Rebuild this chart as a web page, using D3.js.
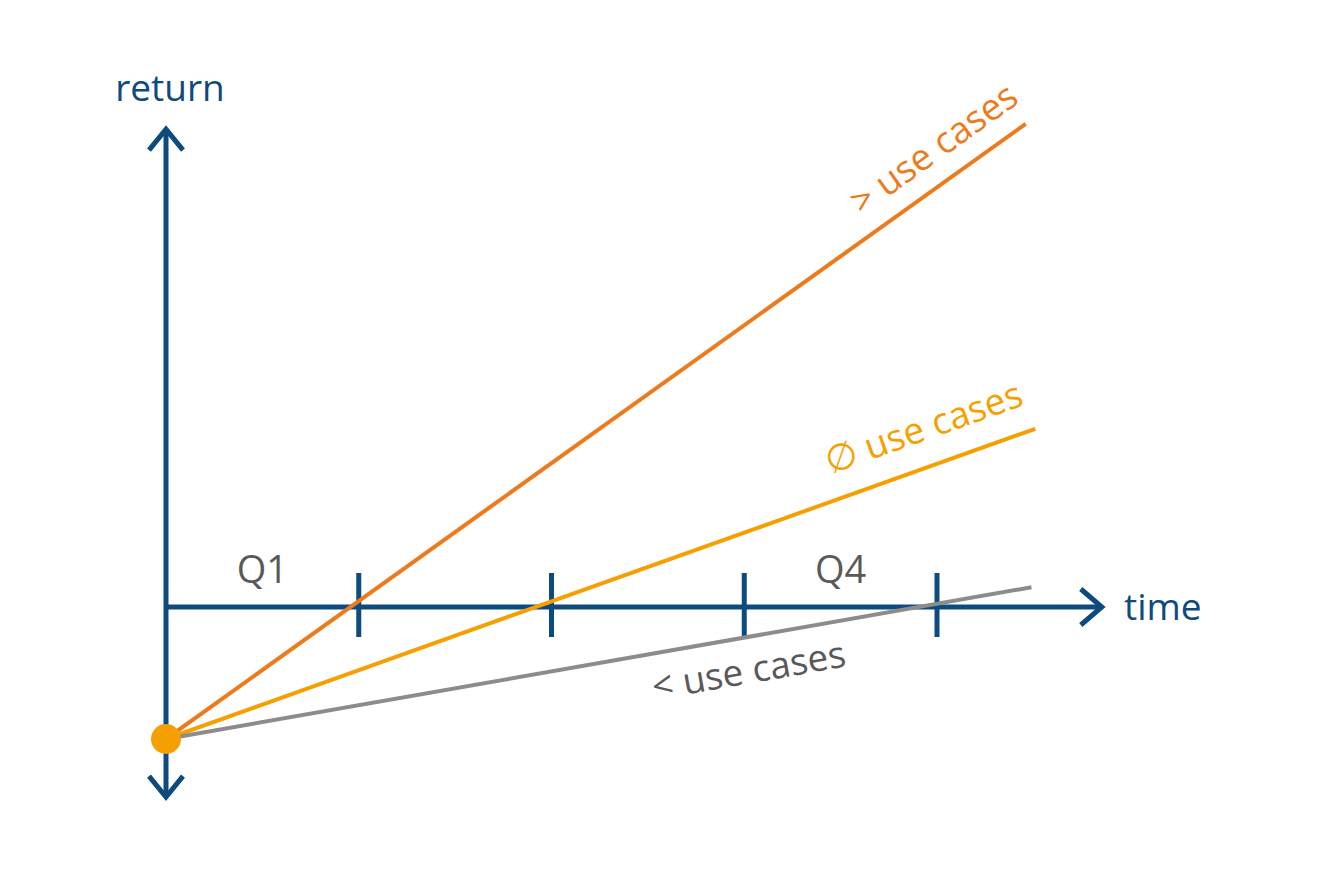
<!DOCTYPE html>
<html>
<head>
<meta charset="utf-8">
<script src="https://cdn.jsdelivr.net/npm/d3@7"></script>
<style>
  html, body { margin: 0; padding: 0; background: #ffffff; }
  svg { display: block; }
  text { font-family: "Open Sans", "Noto Sans", "DejaVu Sans", sans-serif; }
</style>
</head>
<body>
<svg id="chart" width="1344" height="880"></svg>
<script>
// ---- data ----
const quarterTicks = [1, 2, 3, 4];
const quarterLabels = ["Q1", "Q4"];
const quarterLabelPos = [0.5, 3.5];
const seriesNames = ["> use cases", "\u2205 use cases", "< use cases"];
const startTime = 0;
const startReturn = -1;
const endTime = [4.46, 4.51, 4.49];
const endReturn = [3.66, 1.35, 0.15];
const seriesColors = ["#ee7b1b", "#f5a000", "#8c8c8c"];
const labelColors = ["#ee7b1b", "#f5a000", "#595959"];
const xAxisName = "time";
const yAxisName = "return";

// ---- layout ----
const svg = d3.select("#chart");
const x = d3.scaleLinear().domain([0, 4]).range([166, 937]);
const y = d3.scaleLinear().domain([-1, 0]).range([739, 607]);
const axisColor = "#0d4a7e";

// y axis
const yTop = 3.62, yBottom = -1.44;
svg.append("line")
  .attr("x1", x(0)).attr("x2", x(0))
  .attr("y1", y(yTop) + 2).attr("y2", y(yBottom) - 2)
  .attr("stroke", axisColor).attr("stroke-width", 5);
svg.append("path")
  .attr("d", `M${x(0) - 17},${y(yTop) + 21} L${x(0)},${y(yTop)} L${x(0) + 17},${y(yTop) + 21}`)
  .attr("fill", "none").attr("stroke", axisColor).attr("stroke-width", 5);
svg.append("path")
  .attr("d", `M${x(0) - 17},${y(yBottom) - 21} L${x(0)},${y(yBottom)} L${x(0) + 17},${y(yBottom) - 21}`)
  .attr("fill", "none").attr("stroke", axisColor).attr("stroke-width", 5);

// x axis
const xEnd = 4.855;
svg.append("line")
  .attr("x1", x(0)).attr("x2", x(xEnd) - 2)
  .attr("y1", y(0)).attr("y2", y(0))
  .attr("stroke", axisColor).attr("stroke-width", 5);
svg.append("path")
  .attr("d", `M${x(xEnd) - 21},${y(0) - 18} L${x(xEnd)},${y(0)} L${x(xEnd) - 21},${y(0) + 18}`)
  .attr("fill", "none").attr("stroke", axisColor).attr("stroke-width", 5);

// ticks
svg.append("g").selectAll("line").data(quarterTicks).join("line")
  .attr("x1", d => x(d)).attr("x2", d => x(d))
  .attr("y1", y(0) - 34).attr("y2", y(0) + 30)
  .attr("stroke", axisColor).attr("stroke-width", 5);

// quarter labels
svg.append("g").selectAll("text").data(quarterLabels).join("text")
  .attr("x", (d, i) => x(quarterLabelPos[i]))
  .attr("y", y(0) - 24)
  .attr("text-anchor", "middle")
  .attr("font-size", 38)
  .attr("fill", "#595959")
  .text(d => d);

// axis names
svg.append("text")
  .attr("x", x(0) + 4).attr("y", 101)
  .attr("text-anchor", "middle")
  .attr("font-size", 37)
  .attr("fill", axisColor)
  .text(yAxisName);
svg.append("text")
  .attr("x", 1124).attr("y", y(0) + 13)
  .attr("font-size", 37)
  .attr("fill", axisColor)
  .text(xAxisName);

// series lines
const series = seriesNames.map((name, i) => ({
  name,
  pts: [[startTime, startReturn], [endTime[i], endReturn[i]]],
  color: seriesColors[i],
  labelColor: labelColors[i]
}));
const lineGen = d3.line().x(d => x(d[0])).y(d => y(d[1]));
svg.append("g").selectAll("path").data(series).join("path")
  .attr("d", d => lineGen(d.pts))
  .attr("fill", "none")
  .attr("stroke", d => d.color)
  .attr("stroke-width", 4);

// series labels (rotated along line)
const labelOffsets = [[-5, -22], [-10, -24], [-184, 79]];
svg.append("g").selectAll("text").data(series).join("text")
  .each(function(d, i) {
    const p0 = d.pts[0], p1 = d.pts[1];
    const ang = Math.atan2(y(p1[1]) - y(p0[1]), x(p1[0]) - x(p0[0])) * 180 / Math.PI;
    const ax = x(p1[0]) + labelOffsets[i][0];
    const ay = y(p1[1]) + labelOffsets[i][1];
    d3.select(this)
      .attr("transform", `translate(${ax},${ay}) rotate(${ang})`)
      .attr("text-anchor", "end");
  })
  .attr("font-size", 37)
  .attr("fill", d => d.labelColor)
  .text(d => d.name);

// origin point
svg.append("circle")
  .attr("cx", x(startTime)).attr("cy", y(startReturn))
  .attr("r", 15)
  .attr("fill", "#f59f00");
</script>
</body>
</html>
